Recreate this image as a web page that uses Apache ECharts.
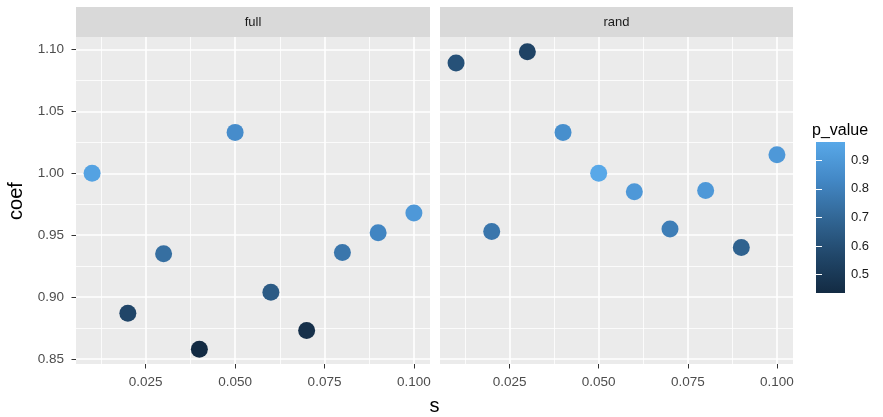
<!DOCTYPE html>
<html><head><meta charset="utf-8">
<script src="https://cdn.jsdelivr.net/npm/echarts@6/dist/echarts.min.js"></script>
<style>html,body{margin:0;padding:0;background:#fff}#c{width:883px;height:417px}</style>
</head><body><div id="c"></div>
<script>
// ---- data ----
const sValues  = [0.01, 0.02, 0.03, 0.04, 0.05, 0.06, 0.07, 0.08, 0.09, 0.10];
const coefFull = [1.000, 0.887, 0.935, 0.858, 1.033, 0.904, 0.873, 0.936, 0.952, 0.968];
const pFull    = [0.94, 0.56, 0.73, 0.436, 0.85, 0.65, 0.46, 0.76, 0.82, 0.90];
const coefRand = [1.089, 0.953, 1.098, 1.033, 1.000, 0.985, 0.955, 0.986, 0.940, 1.015];
const pRand    = [0.61, 0.76, 0.55, 0.86, 0.964, 0.90, 0.79, 0.90, 0.68, 0.90];
const panelNames = ['full', 'rand'];
const xTicks = [0.025, 0.050, 0.075, 0.100];
const xMinor = [0.0125, 0.0375, 0.0625, 0.0875];
const yTicks = [0.85, 0.90, 0.95, 1.00, 1.05, 1.10];
const yMinor = [0.875, 0.925, 0.975, 1.025, 1.075];
const pTicks = [0.5, 0.6, 0.7, 0.8, 0.9];

// ---- derived ----
function expand(arr){const mn=Math.min(...arr),mx=Math.max(...arr),d=(mx-mn)*0.05;return [mn-d,mx+d];}
const xRange = expand(sValues);
const yRange = expand(coefFull.concat(coefRand));
const allP = pFull.concat(pRand);
const pRange = [Math.min(...allP), Math.max(...allP)];
const gradientColors = ['#132B43','#21476A','#326796','#4388C6','#58A8E8'];

const fullData = sValues.map((s,i)=>[s, coefFull[i], pFull[i]]);
const randData = sValues.map((s,i)=>[s, coefRand[i], pRand[i]]);

const FONT = 'Liberation Sans, Arial, sans-serif';
const grids = [
  {left:76, top:37, width:354, height:327},
  {left:440, top:37, width:353, height:327}
];

function majorX(gi){
  return {type:'value', gridIndex:gi, min:xRange[0], max:xRange[1], z:1,
    axisLine:{show:false},
    axisTick:{show:true, length:4.5, lineStyle:{color:'#333', width:1}, customValues:xTicks},
    axisLabel:{show:true, color:'#4D4D4D', fontSize:13.5, fontFamily:FONT, margin:11, customValues:xTicks,
      formatter:v=>v.toFixed(3)},
    splitLine:{show:true, lineStyle:{color:'#fff', width:1.6}}};
}
function minorX(gi){
  return {type:'value', gridIndex:gi, min:xRange[0], max:xRange[1], z:1,
    axisLine:{show:false}, axisLabel:{show:false},
    axisTick:{show:false, customValues:xMinor},
    splitLine:{show:true, lineStyle:{color:'#fff', width:0.8}}};
}
function majorY(gi, labels){
  return {type:'value', gridIndex:gi, min:yRange[0], max:yRange[1], z:1,
    axisLine:{show:false},
    axisTick:{show:labels, length:4.5, lineStyle:{color:'#333', width:1}, customValues:yTicks},
    axisLabel:{show:labels, color:'#4D4D4D', fontSize:13.5, fontFamily:FONT, margin:12, customValues:yTicks,
      formatter:v=>v.toFixed(2)},
    splitLine:{show:true, lineStyle:{color:'#fff', width:1.6}}};
}
function minorY(gi){
  return {type:'value', gridIndex:gi, min:yRange[0], max:yRange[1], z:1,
    axisLine:{show:false}, axisLabel:{show:false},
    axisTick:{show:false, customValues:yMinor},
    splitLine:{show:true, lineStyle:{color:'#fff', width:0.8}}};
}

const chart = echarts.init(document.getElementById('c'), null, {renderer:'canvas'});
const option = {
  backgroundColor:'#fff',
  animation:false,
  grid:[
    Object.assign({show:true, backgroundColor:'#EBEBEB', borderWidth:0}, grids[0]),
    Object.assign({show:true, backgroundColor:'#EBEBEB', borderWidth:0}, grids[1]),
    {left:816, top:142, width:29, height:151, show:false}
  ],
  xAxis:[ majorX(0), minorX(0), majorX(1), minorX(1),
    {type:'value', gridIndex:2, min:0, max:1, show:false} ],
  yAxis:[ majorY(0,true), minorY(0), majorY(1,false), minorY(1),
    {type:'value', gridIndex:2, min:pRange[0], max:pRange[1], position:'right', z:5,
      axisLine:{show:false}, splitLine:{show:false},
      axisTick:{show:true, inside:true, length:6, lineStyle:{color:'#fff', width:1}, customValues:pTicks},
      axisLabel:{show:true, color:'#1A1A1A', fontSize:13, fontFamily:FONT, margin:6, customValues:pTicks,
        formatter:v=>v.toFixed(1)}},
    {type:'value', gridIndex:2, min:pRange[0], max:pRange[1], position:'left', z:5,
      axisLine:{show:false}, splitLine:{show:false}, axisLabel:{show:false},
      axisTick:{show:true, inside:true, length:6, lineStyle:{color:'#fff', width:1}, customValues:pTicks}}
  ],
  visualMap:{type:'continuous', show:false, dimension:2, seriesIndex:[0,1],
    min:pRange[0], max:pRange[1], inRange:{color:gradientColors}},
  series:[
    {type:'scatter', name:panelNames[0], xAxisIndex:0, yAxisIndex:0, data:fullData,
      symbol:'circle', symbolSize:17, itemStyle:{opacity:1}, z:3},
    {type:'scatter', name:panelNames[1], xAxisIndex:2, yAxisIndex:2, data:randData,
      symbol:'circle', symbolSize:17, itemStyle:{opacity:1}, z:3},
    {type:'custom', xAxisIndex:4, yAxisIndex:4, data:[[pRange[0], pRange[1]]], z:2,
      encode:{x:0, y:1}, silent:true,
      renderItem:(params, api)=>{
        const top = api.coord([0, api.value(1)]);
        const bot = api.coord([0, api.value(0)]);
        const cs = params.coordSys;
        const stops = gradientColors.slice().reverse().map((c,i,a)=>({offset:i/(a.length-1), color:c}));
        return {type:'rect', shape:{x:cs.x, y:top[1], width:cs.width, height:bot[1]-top[1]},
          style:{fill:{type:'linear', x:0, y:0, x2:0, y2:1, colorStops:stops}}};
      }}
  ],
  graphic:[
    {type:'rect', shape:{x:76, y:7, width:354, height:30}, style:{fill:'#D9D9D9'}, z:1},
    {type:'rect', shape:{x:440, y:7, width:353, height:30}, style:{fill:'#D9D9D9'}, z:1},
    {type:'text', x:253, y:22, z:2, style:{text:panelNames[0], font:'13px '+FONT, fill:'#1A1A1A', textAlign:'center', textVerticalAlign:'middle'}},
    {type:'text', x:616.5, y:22, z:2, style:{text:panelNames[1], font:'13px '+FONT, fill:'#1A1A1A', textAlign:'center', textVerticalAlign:'middle'}},
    {type:'text', x:16, y:201, rotation:Math.PI/2, z:2, style:{text:'coef', font:'20px '+FONT, fill:'#000', textAlign:'center', textVerticalAlign:'middle'}},
    {type:'text', x:434.5, y:406, z:2, style:{text:'s', font:'20px '+FONT, fill:'#000', textAlign:'center', textVerticalAlign:'middle'}},
    {type:'text', x:812, y:131, z:2, style:{text:'p_value', font:'16px '+FONT, fill:'#000', textAlign:'left', textVerticalAlign:'middle'}}
  ]
};
chart.setOption(option);
</script>
</body></html>
